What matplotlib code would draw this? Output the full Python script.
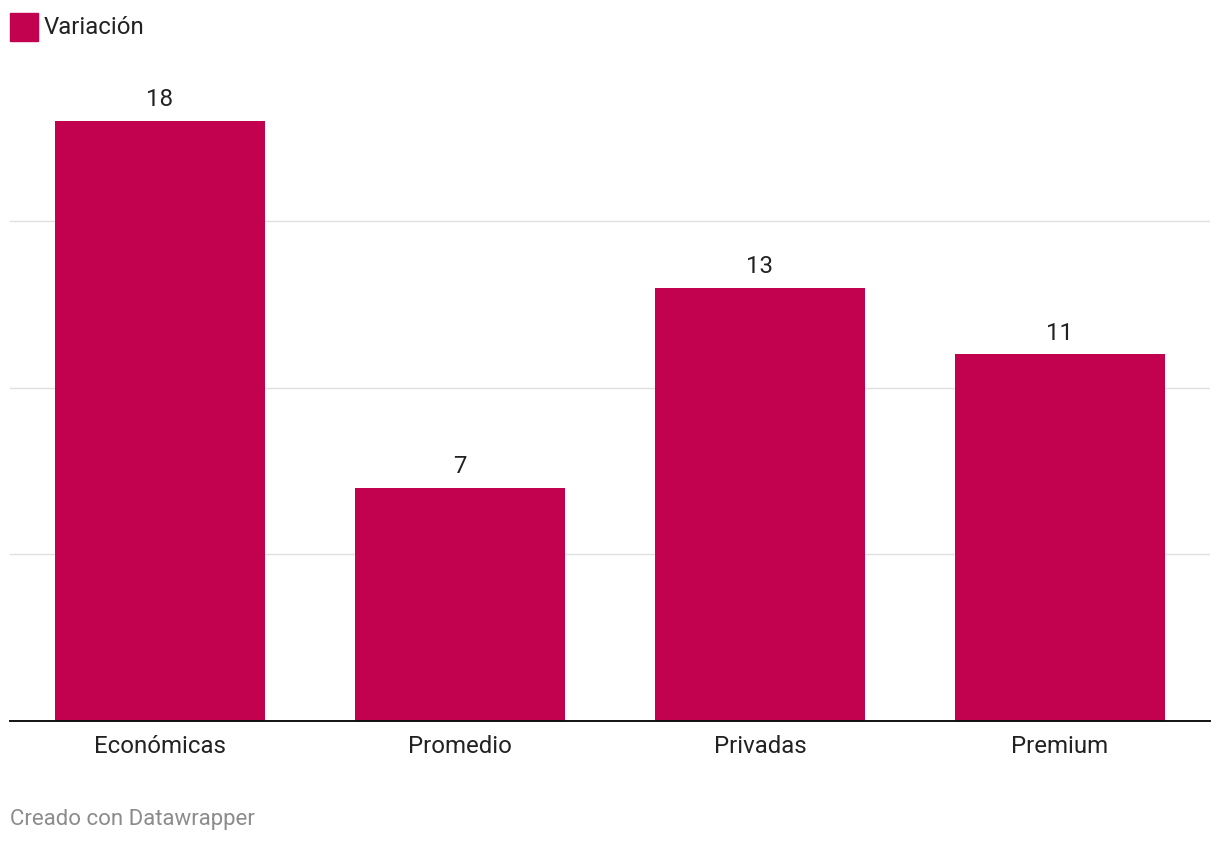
import matplotlib.pyplot as plt

categories = ["Económicas", "Promedio", "Privadas", "Premium"]
values = [18, 7, 13, 11]
series_name = "Variación"
bar_color = "#C2024F"

plt.rcParams['font.family'] = ['Roboto', 'DejaVu Sans']

W, H = 1220, 844
fig = plt.figure(figsize=(W / 100, H / 100), dpi=100)
ax = fig.add_axes([10 / W, (H - 721) / H, 1200 / W, (721 - 21) / H])

x = range(len(categories))
bars = ax.bar(x, values, width=0.7, color=bar_color, zorder=2)
for b, v in zip(bars, values):
    ax.annotate(str(v), (b.get_x() + b.get_width() / 2, v), xytext=(0, 7),
                textcoords="offset points", ha="center", va="bottom",
                fontsize=17.3, color="#222222")

ax.set_xlim(-0.5, 3.5)
ax.set_ylim(0, 21)
ax.set_yticks([5, 10, 15])
ax.yaxis.grid(True, color="#e0e0e0", linewidth=1, zorder=0)
ax.tick_params(axis="y", length=0, labelleft=False)
ax.set_xticks(list(x))
ax.set_xticklabels(categories, fontsize=17.3, color="#222222")
ax.tick_params(axis="x", length=0, pad=10)
for s in ["top", "right", "left"]:
    ax.spines[s].set_visible(False)
ax.spines["bottom"].set_color("#111111")
ax.spines["bottom"].set_linewidth(1.4)
ax.spines["bottom"].set_zorder(3)

# legend
fig.patches.append(plt.Rectangle((10 / W, (H - 41) / H), 28 / W, 28 / H,
                                 transform=fig.transFigure, color=bar_color))
fig.text(44 / W, (H - 27) / H, series_name, fontsize=17.3, color="#222222", va="center")

fig.text(10 / W, (H - 820) / H, "Creado con Datawrapper", fontsize=16,
         color="#8c8c8c", va="center")

fig.savefig("out.png", dpi=100)
